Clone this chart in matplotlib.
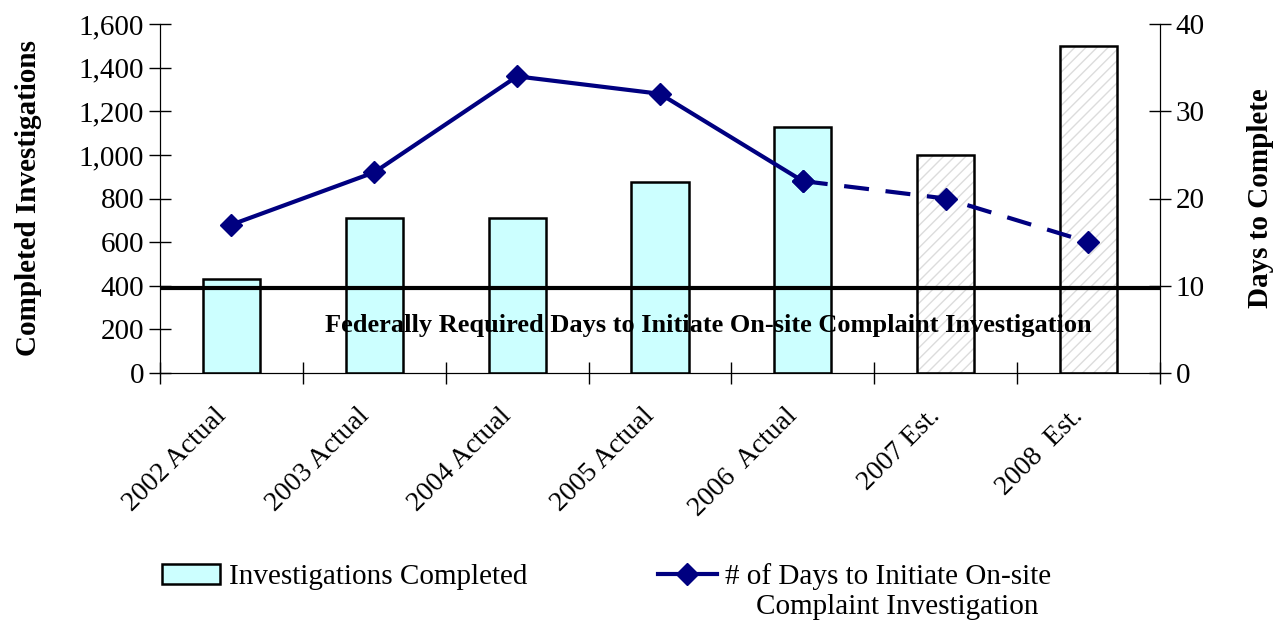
import numpy as np
import matplotlib.pyplot as plt
import matplotlib.transforms as mtransforms
from matplotlib.patches import Patch
from matplotlib.lines import Line2D

plt.rcParams['font.family'] = ['Liberation Serif', 'DejaVu Serif']

years = ["2002 Actual", "2003 Actual", "2004 Actual", "2005 Actual",
         "2006  Actual", "2007 Est.", "2008  Est."]
completed = [430, 710, 710, 875, 1130, 1000, 1500]
days = [17, 23, 34, 32, 22, 20, 15]
estimated = [False, False, False, False, False, True, True]
fed_days = 9.7

x = np.arange(len(years))

fig = plt.figure(figsize=(12.76, 6.25), dpi=100)
ax = fig.add_axes([0.1254, 0.4032, 0.7836, 0.5584])
ax2 = ax.twinx()

for xi, v, est in zip(x, completed, estimated):
    if est:
        # hatch drawn in light grey, outline on top in black
        ax.bar(xi, v, width=0.4, color="white", edgecolor="#dcdcdc", linewidth=0,
               hatch="///", zorder=2)
        ax.bar(xi, v, width=0.4, fill=False, edgecolor="black", linewidth=1.8,
               zorder=3)
    else:
        ax.bar(xi, v, width=0.4, color="#CCFFFF", edgecolor="black", linewidth=1.8,
               zorder=2)

ax.set_xlim(-0.5, len(years) - 0.5)
ax.set_ylim(0, 1600)
ax.set_yticks(np.arange(0, 1601, 200))
ax.set_yticklabels([f"{v:,}" for v in range(0, 1601, 200)], fontsize=21)
ax.set_xticks(x)
ax.set_xticklabels(years, rotation=45, ha="right", rotation_mode="anchor", fontsize=20)
ax.set_xticks(np.arange(-0.5, len(years)), minor=True)
ax.tick_params(axis="x", which="major", length=0, pad=12)
ax.tick_params(axis="x", which="minor", direction="inout", length=16, width=1)
ax.tick_params(axis="y", direction="inout", length=16, width=1)
# nudge the slanted labels left/down (after tick_params, which resets transforms)
shift = mtransforms.ScaledTranslation(-18 / 100, -14 / 100, fig.dpi_scale_trans)
for lab in ax.get_xticklabels():
    lab.set_transform(lab.get_transform() + shift)
ax.set_ylabel("Completed Investigations", fontsize=21, fontweight="bold", labelpad=26)

ax.spines["top"].set_visible(False)
ax2.spines["top"].set_visible(False)

ax2.set_ylim(0, 40)
ax2.set_yticks(np.arange(0, 41, 10))
ax2.set_yticklabels([str(v) for v in range(0, 41, 10)], fontsize=21)
ax2.tick_params(axis="y", direction="inout", length=16, width=1)
ax2.set_ylabel("Days to Complete", fontsize=21, fontweight="bold", labelpad=30)

navy = "#000080"
ax2.plot(x[:5], days[:5], color=navy, lw=3, marker="D", markersize=11, zorder=4)
ax2.plot(x[4:], days[4:], color=navy, lw=3, ls=(0, (6, 4)), marker="D",
         markersize=11, zorder=4)
ax2.axhline(fed_days, color="black", lw=3, zorder=5)
ax2.text(3.34, 5.4, "Federally Required Days to Initiate On-site Complaint Investigation",
         ha="center", va="center", fontsize=19, fontweight="bold", zorder=6)

handles = [Patch(facecolor="#CCFFFF", edgecolor="black", linewidth=1.8),
           Line2D([], [], color=navy, lw=3, marker="D", markersize=11)]
labels = ["Investigations Completed", "# of Days to Initiate On-site"]
fig.legend(handles, labels, loc="center left", bbox_to_anchor=(0.127, 0.077),
           ncol=2, frameon=False, fontsize=21, handlelength=2.0,
           handletextpad=0.28, columnspacing=4.5, borderpad=0, borderaxespad=0)
fig.text(897 / 1276, 1 - 607 / 625, "Complaint Investigation", ha="center",
         va="center", fontsize=21)

fig.savefig("out.png", dpi=100)
